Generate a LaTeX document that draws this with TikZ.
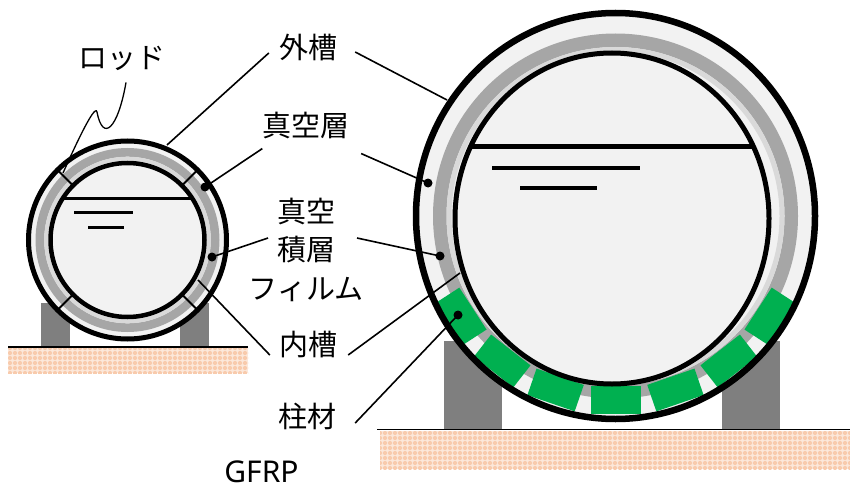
\documentclass[tikz,border=0pt]{standalone}
\usepackage{fontspec}
\setmainfont{Noto Sans}
\newfontfamily\jpfont{Noto Sans CJK JP}
\usetikzlibrary{patterns.meta}

\definecolor{tankfill}{HTML}{F2F2F2}
\definecolor{mlidark}{HTML}{A6A6A6}
\definecolor{mlilight}{HTML}{D9D9D9}
\definecolor{leggray}{HTML}{7F7F7F}
\definecolor{gfrpgreen}{HTML}{00B050}
\definecolor{soil}{HTML}{F8CBAD}

\tikzset{
  lbl/.style={font={\jpfont\fontsize{29}{38.5}\selectfont}, inner sep=0pt, align=center},
  leader/.style={line width=1.6pt},
  legs/.style={fill=leggray},
  ground/.style={fill=soil!45, postaction={pattern={Dots[distance=5pt,radius=2.1pt]}, pattern color=soil}},
  gfrpblock/.style={fill=gfrpgreen},
}

\begin{document}
\begin{tikzpicture}[x=1pt,y=1pt]
  \fill[white] (0,0) rectangle (850,488);
  \useasboundingbox (0,0) rectangle (850,488);

  % Small tank: legs and ground
  \fill[legs] (41,141) rectangle (70,185);
  \fill[legs] (180,141) rectangle (209,185);
  \path[ground] (8,115) rectangle (248,140);
  \draw[line width=1.5pt] (8,141) -- (248,141);

  % Small tank
  \coordinate (L) at (127.5,248);
  \fill[tankfill] (L) circle[radius=99];
  \fill[mlidark, even odd rule] (L) circle[radius=92] (L) circle[radius=83.3];
  \fill[mlilight, even odd rule] (L) circle[radius=83.3] (L) circle[radius=79.5];
  \fill[tankfill] (L) circle[radius=77];
  \foreach \a in {45,135,225,315}
    \draw[line width=1.8pt] ([shift={(\a:79)}]L) -- ([shift={(\a:99)}]L);
  \draw[line width=5pt] (L) circle[radius=99];
  \draw[line width=4.5pt] (L) circle[radius=77];
  \draw[line width=3pt] (63,290) -- (192,290);
  \draw[line width=3pt] (74,276) -- (133,276);
  \draw[line width=3pt] (88,261) -- (124,261);

  % Large tank: legs and ground
  \fill[legs] (444,59) rectangle (502,147);
  \fill[legs] (722,59) rectangle (780,147);
  \path[ground] (380,19) rectangle (850,57);
  \draw[line width=1.5pt] (377,58.5) -- (850,58.5);

  % Large tank
  \coordinate (R) at (615.5,272);
  \coordinate (Ri) at (612,269.5);
  \fill[tankfill] (R) ellipse[x radius=199.5, y radius=203];
  \fill[mlidark, even odd rule] (R) circle[radius=182.5] (R) circle[radius=169];
  \fill[mlilight, even odd rule] (R) circle[radius=169] (R) circle[radius=164];
  \fill[tankfill] (Ri) ellipse[x radius=157, y radius=165.5];
  \foreach \a in {-147,-128,...,-33}
    \fill[gfrpblock, shift={(R)}, rotate=\a] (170,-25) rectangle (198,25);
  \draw[line width=6.5pt] (R) ellipse[x radius=199.5, y radius=203];
  \draw[line width=5pt] (Ri) ellipse[x radius=157, y radius=165.5];
  \draw[line width=5pt] (470,341) -- (754,341);
  \draw[line width=4pt] (492,320) -- (640,320);
  \draw[line width=4pt] (520,300) -- (597,300);

  % Labels
  \node[lbl] (outer) at (308,440) {外槽};
  \node[lbl] (vacuum) at (306,363) {真空層};
  \node[lbl] (mli) at (306,238.5) {真空\\積層\\フィルム};
  \node[lbl] (inner) at (308,143) {内槽};
  \node[lbl] (column) at (307.5,72) {柱材};
  \node[lbl] (rod) at (122,430) {ロッド};
  \node[font={\fontsize{30}{36}\selectfont}, inner sep=0pt, anchor=base] (gfrp) at (261.5,6) {GFRP};

  % Leader ends
  \coordinate (oL) at (167,343);
  \coordinate (oR) at (447,388);
  \coordinate (vL) at (205,301);
  \coordinate (vR) at (428,305);
  \coordinate (mL) at (212,231);
  \coordinate (mR) at (440,232);
  \coordinate (iL) at (198,208);
  \coordinate (iR) at (460,215);
  \coordinate (cR) at (458,173);
  \coordinate (rodL) at (63,315);
  \foreach \p in {vL,vR,mL,mR,cR}
    \fill (\p) circle[radius=4.5];

  % Leaders
  \draw[leader] ([shift={(-10,-5)}]outer.west) -- (oL);
  \draw[leader] ([shift={(18,-4)}]outer.east) -- (oR);
  \draw[leader] ([yshift=-10pt]vacuum.south west) -- (vL);
  \draw[leader] ([shift={(11.5,-15)}]vacuum.south east) -- (vR);
  \draw[leader] ([shift={(-38,11.5)}]mli.center) -- (mL);
  \draw[leader] ([shift={(51,11.5)}]mli.center) -- (mR);
  \draw[leader] ([shift={(-9,-10)}]inner.west) -- (iL);
  \draw[leader] ([shift={(11,-10)}]inner.east) -- (iR);
  \draw[leader] ([shift={(18.5,-7)}]column.east) -- (cR);
  \draw[line width=1.3pt] ([shift={(4,-12)}]rod.south) .. controls +(-8,-46) and +(6,-31) .. (97,376)
    .. controls +(-2,10) and +(9,20) .. (rodL);
\end{tikzpicture}
\end{document}
